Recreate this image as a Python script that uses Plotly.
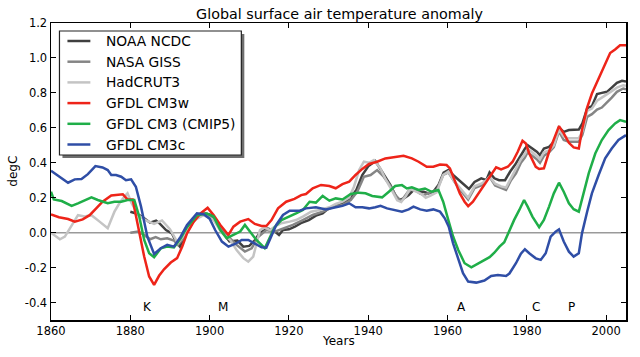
import plotly.graph_objects as go

# ---------------- data ----------------
noaa_years = [1880, 1881.5, 1883, 1884, 1885, 1886.5, 1887.5, 1889, 1890.5, 1891.5,
              1892.5, 1894, 1896, 1897.5, 1899, 1900.5, 1902, 1903.5, 1905, 1907,
              1908.5, 1910, 1911.5, 1912.5, 1914.5, 1916, 1917.5, 1918.5, 1920, 1921.5,
              1923, 1925, 1927, 1928.5, 1930, 1932, 1933.5, 1935, 1937, 1938.5,
              1940, 1941.8, 1943, 1944.3, 1945.6, 1946.8, 1947.7, 1949, 1950.2, 1951.4,
              1952.7, 1954, 1955.2, 1956.4, 1957.7, 1959, 1960.2, 1961.4, 1963, 1964.3,
              1965.4, 1966.8, 1968.5, 1969.8, 1970.6, 1971.8, 1973, 1974.5, 1975.8, 1977.25,
              1978.5, 1979.5, 1980.2, 1981.4, 1982.5, 1983.3, 1984.3, 1985.6, 1986.8, 1988.1,
              1989.3, 1990.6, 1991.8, 1993.1, 1994, 1995.2, 1996.4, 1997.7, 1998.9, 2000.2,
              2001.4, 2002.7, 2004, 2005]
noaa_vals = [0.12, 0.11, 0.09, 0.073, 0.057, 0.069, 0.05, 0.015, -0.004, -0.05,
             -0.08, -0.01, 0.07, 0.105, 0.11, 0.10, 0.06, -0.005, -0.05, -0.045,
             -0.08, -0.076, -0.042, -0.004, 0.025, 0.015, -0.013, 0.015, 0.019, 0.034,
             0.054, 0.072, 0.10, 0.11, 0.139, 0.158, 0.168, 0.187, 0.244, 0.33,
             0.38, 0.41, 0.368, 0.32, 0.272, 0.215, 0.187, 0.196, 0.215, 0.244,
             0.234, 0.234, 0.225, 0.234, 0.272, 0.343, 0.358, 0.33, 0.30, 0.272,
             0.25, 0.29, 0.311, 0.301, 0.345, 0.311, 0.30, 0.30, 0.35, 0.396,
             0.444, 0.48, 0.50, 0.482, 0.463, 0.444, 0.482, 0.491, 0.52, 0.602,
             0.577, 0.587, 0.587, 0.59, 0.625, 0.711, 0.724, 0.793, 0.80, 0.806,
             0.83, 0.857, 0.869, 0.865]

giss_years = [1880, 1882, 1883.5, 1885, 1886.4, 1887.7, 1889.3, 1891, 1892, 1893.5,
              1895, 1897, 1899, 1901.8, 1904.3, 1906.8, 1908.9, 1910.6, 1912.3, 1914.3,
              1916.4, 1918.5, 1921, 1923.5, 1926, 1928.5, 1931, 1933.5, 1935.6, 1937.25,
              1938.9, 1940.6, 1942.25, 1943.9, 1945.5, 1947, 1948.3, 1950.2, 1951.5, 1953,
              1954, 1955.6, 1957.3, 1958.9, 1960.2, 1961.5, 1963, 1965.2, 1966.8, 1968.5,
              1969.8, 1970.6, 1972, 1973.5, 1974.75, 1976, 1977.25, 1978.5, 1979.5, 1980.2,
              1981.4, 1982.5, 1983.3, 1984.3, 1985.6, 1986.8, 1988.1, 1989.3, 1990.6, 1991.8,
              1993.1, 1994, 1995.2, 1996.4, 1997.7, 1998.9, 2000.2, 2001.4, 2002.7, 2004.3,
              2005]
giss_vals = [0.0, 0.006, -0.013, -0.038, -0.026, -0.038, -0.032, -0.045, -0.07, -0.03,
             0.04, 0.09, 0.105, 0.063, -0.013, -0.07, -0.108, -0.09, -0.023, 0.015,
             0.006, 0.025, 0.044, 0.072, 0.101, 0.12, 0.145, 0.158, 0.187, 0.235,
             0.32, 0.33, 0.358, 0.32, 0.27, 0.21, 0.18, 0.24, 0.25, 0.225,
             0.215, 0.23, 0.245, 0.33, 0.345, 0.30, 0.25, 0.19, 0.255, 0.27,
             0.30, 0.32, 0.27, 0.255, 0.244, 0.30, 0.34, 0.40, 0.43, 0.46,
             0.44, 0.42, 0.40, 0.44, 0.46, 0.49, 0.58, 0.53, 0.52, 0.52,
             0.52, 0.56, 0.663, 0.678, 0.705, 0.716, 0.743, 0.773, 0.806, 0.825,
             0.82]

hadcrut_years = [1860, 1862.25, 1863.5, 1865.2, 1866.8, 1868.5, 1870.2, 1872.25, 1874.3, 1876,
                 1877.25, 1878.5, 1879.3, 1880.3, 1882, 1884, 1886, 1888, 1890, 1892,
                 1894, 1896, 1898.5, 1901, 1903, 1905.2, 1906.8, 1908.5, 1909.75, 1911,
                 1911.8, 1912.7, 1913.9, 1915.2, 1916.4, 1918.1, 1920.2, 1921.8, 1923.5, 1925.6,
                 1927.7, 1930.2, 1931.8, 1933.5, 1935.2, 1936.4, 1937.7, 1938.9, 1940.2, 1941.4,
                 1943, 1944.5, 1946, 1947.3, 1948.3, 1949.5, 1950.5, 1952, 1953.5, 1954.5,
                 1955.6, 1957.25, 1958.9, 1960.2, 1961.5, 1963, 1965.2, 1966.8, 1968.5, 1969.8,
                 1970.6, 1972, 1973.5, 1974.75, 1976, 1977.25, 1978.5, 1979.5, 1980.2, 1981.4,
                 1982.5, 1983.3, 1984.3, 1985.6, 1986.8, 1988.1, 1989.3, 1990.6, 1991.8, 1993.1,
                 1994, 1995.2, 1996.4, 1997.7, 1998.9, 2000.2, 2001.4, 2002.7, 2004.3, 2005]
hadcrut_vals = [0.0, -0.038, -0.023, 0.038, 0.10, 0.092, 0.10, 0.063, 0.025, 0.12,
                0.168, 0.206, 0.225, 0.17, 0.10, 0.07, 0.05, 0.07, 0.02, -0.06,
                0.0, 0.07, 0.10, 0.072, 0.0, -0.042, -0.10, -0.146, -0.166, -0.137,
                -0.061, 0.015, 0.03, 0.015, 0.034, 0.054, 0.063, 0.072, 0.092, 0.12,
                0.13, 0.145, 0.164, 0.177, 0.202, 0.263, 0.358, 0.406, 0.40, 0.415,
                0.37, 0.30, 0.24, 0.185, 0.175, 0.21, 0.25, 0.235, 0.22, 0.20,
                0.21, 0.23, 0.33, 0.35, 0.30, 0.26, 0.20, 0.265, 0.28, 0.30,
                0.32, 0.28, 0.265, 0.258, 0.31, 0.36, 0.42, 0.45, 0.48, 0.46,
                0.44, 0.42, 0.46, 0.47, 0.50, 0.59, 0.55, 0.54, 0.54, 0.54,
                0.58, 0.697, 0.71, 0.755, 0.773, 0.79, 0.81, 0.83, 0.844, 0.84]

cm3w_years = [1860, 1862, 1864.3, 1866, 1868, 1869.75, 1871.4, 1873, 1875.2, 1876.8,
              1878.1, 1879.3, 1880.6, 1881.8, 1883.5, 1884.75, 1886, 1887.25, 1888.5, 1890.2,
              1891.8, 1893.1, 1894.3, 1896, 1897.7, 1899.5, 1901, 1902.7, 1904.75, 1906,
              1907.7, 1909.75, 1911.4, 1913.1, 1914.3, 1915.6, 1917.25, 1919.3, 1921.4, 1923.1,
              1924.3, 1926, 1928.1, 1930.2, 1931.8, 1933.5, 1935.2, 1936.8, 1938.5, 1940.2,
              1942.25, 1944.3, 1946.8, 1948.9, 1951, 1952.7, 1954.75, 1956.4, 1958.1, 1959.75,
              1960.6, 1961.8, 1963.1, 1964.3, 1965.2, 1966.4, 1968.1, 1969.75, 1971, 1972.25,
              1973.5, 1975.2, 1976.4, 1977.7, 1978.9, 1979.75, 1980.6, 1982.25, 1983.1, 1984.3,
              1985.6, 1986.8, 1988.1, 1989.3, 1990.6, 1991.8, 1993.1, 1993.9, 1995.2, 1996.4,
              1998.1, 1999.75, 2001, 2002.25, 2003.5, 2005]
cm3w_vals = [0.105, 0.088, 0.078, 0.063, 0.076, 0.10, 0.139, 0.177, 0.213, 0.219,
             0.22, 0.19, 0.19, 0.054, -0.137, -0.251, -0.299, -0.247, -0.21, -0.171,
             -0.146, -0.08, -0.004, 0.063, 0.11, 0.142, 0.101, 0.044, -0.013, 0.034,
             0.063, 0.078, 0.05, 0.038, 0.038, 0.072, 0.139, 0.177, 0.193, 0.215,
             0.221, 0.254, 0.273, 0.267, 0.254, 0.278, 0.292, 0.33, 0.365, 0.393,
             0.406, 0.425, 0.434, 0.44, 0.425, 0.406, 0.377, 0.377, 0.39, 0.387,
             0.368, 0.301, 0.225, 0.177, 0.152, 0.177, 0.234, 0.29, 0.33, 0.374,
             0.362, 0.377, 0.406, 0.463, 0.526, 0.51, 0.453, 0.377, 0.364, 0.368,
             0.463, 0.533, 0.61, 0.568, 0.514, 0.488, 0.482, 0.587, 0.716, 0.796,
             0.882, 0.958, 1.028, 1.048, 1.072, 1.072]

cm3_years = [1860, 1860.7, 1862.7, 1865.2, 1866.8, 1868.5, 1870.2, 1871.8, 1874.3, 1876,
             1877.7, 1879.3, 1881, 1882.25, 1883.5, 1884.75, 1886, 1887.7, 1889.3, 1891,
             1892.7, 1894.3, 1896.8, 1899.3, 1901, 1902.7, 1904.3, 1906, 1907.7, 1908.9,
             1910.2, 1911.8, 1913.9, 1915.2, 1916.4, 1918.1, 1919.75, 1921.8, 1923.5, 1925.2,
             1926.8, 1928.5, 1930.2, 1931.8, 1933.5, 1935.6, 1937.7, 1939.3, 1941, 1943.5,
             1945.2, 1946.8, 1948.5, 1949.75, 1951, 1952.7, 1954.3, 1956, 1957.7, 1958.9,
             1960.2, 1961.4, 1962.7, 1964.3, 1966, 1967.7, 1969.3, 1970.6, 1971.8, 1973.1,
             1974.3, 1975.6, 1976.8, 1978.1, 1979.3, 1980.2, 1981.4, 1983.1, 1984.3, 1985.6,
             1986.8, 1988.1, 1989.3, 1990.6, 1991.8, 1993.1, 1994.3, 1995.6, 1997.25, 1998.9,
             2000.6, 2002.25, 2003.5, 2005]
cm3_vals = [0.234, 0.19, 0.181, 0.153, 0.168, 0.183, 0.202, 0.187, 0.168, 0.177,
            0.177, 0.187, 0.187, 0.092, -0.042, -0.118, -0.141, -0.09, -0.08, -0.084,
            -0.032, 0.031, 0.10, 0.11, 0.092, 0.015, -0.032, -0.013, 0.006, 0.044,
            0.006, -0.042, -0.089, -0.023, 0.031, 0.072, 0.088, 0.11, 0.13, 0.177,
            0.172, 0.21, 0.183, 0.196, 0.19, 0.221, 0.229, 0.225, 0.21, 0.202,
            0.234, 0.267, 0.272, 0.253, 0.259, 0.244, 0.253, 0.234, 0.244, 0.177,
            0.072, -0.022, -0.099, -0.175, -0.198, -0.175, -0.155, -0.14, -0.115, -0.08,
            -0.055, 0.015, 0.073, 0.13, 0.187, 0.149, 0.092, 0.031, 0.073, 0.149,
            0.225, 0.286, 0.234, 0.168, 0.134, 0.12, 0.234, 0.339, 0.453, 0.53,
            0.587, 0.625, 0.644, 0.634]

cm3c_years = [1860, 1862.25, 1864.3, 1866, 1867.7, 1869.3, 1871.2, 1873, 1874.3, 1875.2,
              1876.4, 1877.7, 1878.9, 1880.2, 1881.4, 1882.7, 1884.3, 1886, 1887.7, 1889.3,
              1891, 1892.7, 1894.3, 1896.8, 1898.5, 1900, 1901.4, 1903.1, 1904.75, 1906.4,
              1908.1, 1909.75, 1911.4, 1913.1, 1914.3, 1915.6, 1916.8, 1918.5, 1920.2, 1922.7,
              1924.3, 1926.8, 1929.3, 1931.8, 1933.5, 1935.2, 1936.8, 1938.5, 1940.2, 1941.8,
              1943.1, 1944.75, 1946.8, 1948.5, 1950.2, 1951.4, 1953.1, 1954.75, 1956.4, 1958.1,
              1959.3, 1960.3, 1961.4, 1962.7, 1963.9, 1965.2, 1967.25, 1969.3, 1971, 1972.7,
              1974.75, 1975.6, 1977.25, 1978.5, 1979.5, 1980.6, 1982.25, 1983.5, 1984.75, 1986,
              1987.25, 1988.1, 1989.3, 1990.6, 1991.8, 1993.1, 1993.9, 1995.2, 1996.4, 1998.1,
              1999.75, 2001.4, 2003.1, 2005]
cm3c_vals = [0.354, 0.32, 0.286, 0.305, 0.307, 0.335, 0.381, 0.373, 0.358, 0.33,
             0.33, 0.32, 0.30, 0.305, 0.263, 0.149, -0.023, -0.122, -0.089, -0.07,
             -0.08, -0.023, 0.044, 0.11, 0.105, 0.08, 0.015, -0.051, -0.08, -0.065,
             -0.042, -0.042, -0.061, -0.084, -0.086, -0.023, 0.044, 0.101, 0.126, 0.126,
             0.139, 0.145, 0.133, 0.145, 0.153, 0.168, 0.145, 0.145, 0.139, 0.145,
             0.154, 0.139, 0.13, 0.12, 0.133, 0.149, 0.133, 0.126, 0.133, 0.12,
             0.082, 0.034, -0.061, -0.156, -0.232, -0.28, -0.286, -0.274, -0.248, -0.242,
             -0.248, -0.234, -0.175, -0.12, -0.095, -0.118, -0.147, -0.156, -0.118, -0.023,
             0.006, 0.019, -0.051, -0.109, -0.137, -0.118, -0.004, 0.12, 0.225, 0.33,
             0.425, 0.482, 0.53, 0.558]

event_labels = ["K", "M", "A", "C", "P"]
event_years = [1884.25, 1903.25, 1963.5, 1982.25, 1991.25]
event_level = -0.425

x_ticks = [1860, 1880, 1900, 1920, 1940, 1960, 1980, 2000]
y_ticks = [-0.4, -0.2, 0.0, 0.2, 0.4, 0.6, 0.8, 1.0, 1.2]
y_tick_text = ["-0.4", "-0.2", "0.0", "0.2", "0.4", "0.6", "0.8", "1.0", "1.2"]

series_names = ["NOAA NCDC", "NASA GISS", "HadCRUT3", "GFDL CM3w",
                "GFDL CM3 (CMIP5)", "GFDL CM3c"]
series_years = [noaa_years, giss_years, hadcrut_years, cm3w_years, cm3_years, cm3c_years]
series_vals = [noaa_vals, giss_vals, hadcrut_vals, cm3w_vals, cm3_vals, cm3c_vals]
series_colors = ["#404040", "#858585", "#c4c4c4", "#ee2419", "#1fae48", "#2f4ea6"]

FONT = "DejaVu Sans"
W, H = 640, 357
ml, mr, mt, mb = 51, 12, 23, 37
pw, ph = W - ml - mr, H - mt - mb


def px2paper(px, py):
    return (px - ml) / pw, 1 - (py - mt) / ph


fig = go.Figure()

# zero line
fig.add_trace(go.Scatter(x=[1860, 2005], y=[0, 0], mode="lines",
                         line=dict(color="#9a9a9a", width=1.5),
                         showlegend=False, hoverinfo="skip"))

for name, xs, ys, col in zip(series_names, series_years, series_vals, series_colors):
    fig.add_trace(go.Scatter(x=xs, y=ys, mode="lines", name=name,
                             line=dict(color=col, width=2.5), showlegend=False))

for lab, yr in zip(event_labels, event_years):
    fig.add_annotation(x=yr, y=event_level, text=lab, showarrow=False,
                       font=dict(family=FONT, size=12, color="black"),
                       xanchor="center", yanchor="middle")

# ---- legend box (matplotlib style, with shadow) ----
bx0, by0, bx1, by1 = 59.5, 31, 242, 155
sh = 3
a0, b0 = px2paper(bx0 + sh, by0 + sh)
a1, b1 = px2paper(bx1 + sh, by1 + sh)
fig.add_shape(type="rect", xref="paper", yref="paper", x0=a0, y0=b1, x1=a1, y1=b0,
              fillcolor="#6e6e6e", line=dict(width=0), layer="above")
a0, b0 = px2paper(bx0, by0)
a1, b1 = px2paper(bx1, by1)
fig.add_shape(type="rect", xref="paper", yref="paper", x0=a0, y0=b1, x1=a1, y1=b0,
              fillcolor="white", line=dict(color="#222222", width=1.2), layer="above")

row0, row_step = 41, 20.7
for i, (name, col) in enumerate(zip(series_names, series_colors)):
    ry = row0 + i * row_step
    lx0, ly = px2paper(67.5, ry)
    lx1, _ = px2paper(90.5, ry)
    fig.add_shape(type="line", xref="paper", yref="paper", x0=lx0, y0=ly, x1=lx1, y1=ly,
                  line=dict(color=col, width=2.5), layer="above")
    tx, ty = px2paper(104.5, ry)
    fig.add_annotation(xref="paper", yref="paper", x=tx, y=ty, text=name, showarrow=False,
                       xanchor="left", yanchor="middle",
                       font=dict(family=FONT, size=13.8, color="black"))

# axis titles
xt, yt = px2paper(ml + pw / 2, 341)
fig.add_annotation(xref="paper", yref="paper", x=xt, y=yt, text="Years", showarrow=False,
                   xanchor="center", yanchor="middle",
                   font=dict(family=FONT, size=12, color="black"))
xt, yt = px2paper(12, mt + ph / 2)
fig.add_annotation(xref="paper", yref="paper", x=xt, y=yt, text="degC", showarrow=False,
                   xanchor="center", yanchor="middle", textangle=-90,
                   font=dict(family=FONT, size=12, color="black"))

fig.update_layout(
    width=W, height=H,
    margin=dict(l=ml, r=mr, t=mt, b=mb),
    paper_bgcolor="white", plot_bgcolor="white",
    title=dict(text="Global surface air temperature anomaly", x=(ml + pw / 2) / W,
               xanchor="center", y=1 - 13.5 / H, yanchor="middle",
               font=dict(family=FONT, size=14.3, color="black")),
    font=dict(family=FONT, color="black"),
    showlegend=False,
    hovermode=False,
    xaxis=dict(range=[1860, 2005], tickvals=x_ticks, ticks="inside", ticklen=5,
               tickcolor="black", showline=True, linecolor="black", linewidth=1.5,
               mirror="allticks", showgrid=False, zeroline=False,
               tickfont=dict(family=FONT, size=11.5, color="black")),
    yaxis=dict(range=[-0.5, 1.2], tickvals=y_ticks, ticktext=y_tick_text, ticks="inside",
               ticklen=5, tickcolor="black", showline=True, linecolor="black",
               linewidth=1.5, mirror="allticks", showgrid=False, zeroline=False,
               tickfont=dict(family=FONT, size=11.5, color="black")),
)

fig.write_html("out.html",
               config={"displayModeBar": False, "staticPlot": True},
               post_script="document.body.style.margin='0';document.body.style.overflow='hidden';")
